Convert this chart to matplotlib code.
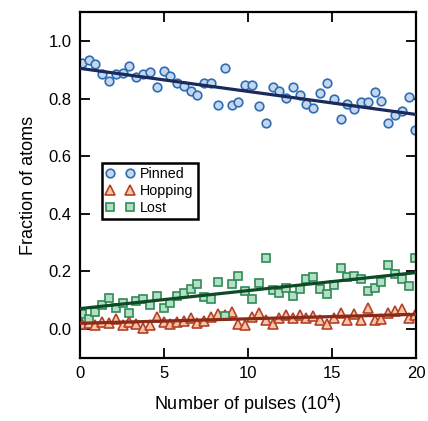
import numpy as np
import matplotlib
matplotlib.use("Agg")
import matplotlib.pyplot as plt

plt.rcParams['font.family'] = ['Liberation Sans', 'DejaVu Sans']

# pulse number (10^4), one value per measurement
pulses = [0.1, 0.51, 0.91, 1.32, 1.72, 2.13, 2.53, 2.94, 3.34, 3.75,
          4.16, 4.56, 4.97, 5.37, 5.78, 6.18, 6.59, 6.99, 7.40, 7.81,
          8.21, 8.62, 9.02, 9.43, 9.83, 10.24, 10.64, 11.05, 11.46, 11.86,
          12.27, 12.67, 13.08, 13.48, 13.89, 14.29, 14.70, 15.11, 15.51, 15.92,
          16.32, 16.73, 17.13, 17.54, 17.94, 18.35, 18.76, 19.16, 19.57, 19.94]

pinned = [0.925, 0.934, 0.920, 0.884, 0.862, 0.887, 0.890, 0.914, 0.876, 0.887,
          0.891, 0.840, 0.895, 0.879, 0.853, 0.843, 0.826, 0.812, 0.855, 0.855,
          0.779, 0.908, 0.779, 0.788, 0.847, 0.849, 0.773, 0.715, 0.840, 0.827,
          0.802, 0.842, 0.812, 0.783, 0.766, 0.819, 0.854, 0.798, 0.729, 0.782,
          0.763, 0.788, 0.788, 0.822, 0.791, 0.717, 0.743, 0.757, 0.804, 0.690]

hopping = [0.016, 0.020, 0.014, 0.024, 0.020, 0.036, 0.013, 0.024, 0.016, 0.005,
           0.014, 0.042, 0.026, 0.019, 0.024, 0.028, 0.037, 0.020, 0.028, 0.043,
           0.053, 0.048, 0.060, 0.016, 0.013, 0.043, 0.057, 0.030, 0.016, 0.037,
           0.049, 0.039, 0.048, 0.037, 0.046, 0.030, 0.016, 0.039, 0.055, 0.031,
           0.051, 0.030, 0.074, 0.031, 0.036, 0.057, 0.063, 0.069, 0.039, 0.049]

lost = [0.051, 0.034, 0.059, 0.084, 0.109, 0.074, 0.092, 0.057, 0.098, 0.103,
        0.084, 0.116, 0.074, 0.092, 0.116, 0.124, 0.138, 0.156, 0.111, 0.106,
        0.165, 0.045, 0.156, 0.185, 0.132, 0.106, 0.161, 0.246, 0.135, 0.126,
        0.144, 0.113, 0.138, 0.173, 0.179, 0.140, 0.123, 0.153, 0.211, 0.179,
        0.185, 0.175, 0.132, 0.142, 0.165, 0.223, 0.191, 0.173, 0.150, 0.246]

# linear fits: (intercept, slope per 10^4 pulses)
fit_pinned = (0.905, -0.0080)
fit_hopping = (0.020, 0.00155)
fit_lost = (0.071, 0.00625)

series = [
    ("Pinned", pinned, fit_pinned, "o", 6.2, "#c6d6ec", "#2c6db5", "#1a2a5a"),
    ("Hopping", hopping, fit_hopping, "^", 6.6, "#f8c6a2", "#b5402a", "#8a2a18"),
    ("Lost", lost, fit_lost, "s", 6.0, "#b3dfc6", "#2f8a55", "#0d4a25"),
]

fig = plt.figure(figsize=(4.28, 4.21), dpi=100)
ax = fig.add_axes([0.187, 0.150, 0.785, 0.821])

xfit = np.array([0, 20])
handles = []
for name, vals, fit, mk, ms, face, edge, lc in series:
    ax.plot(xfit, fit[0] + fit[1] * xfit, color=lc, lw=2.3, zorder=3)
    h, = ax.plot(pulses, vals, ls="none", marker=mk, ms=ms,
                 mfc=face, mec=edge, mew=1.2, label=name, zorder=2)
    handles.append(h)

ax.set_xlim(0, 20)
ax.set_ylim(-0.1, 1.1)
ax.set_xticks([0, 5, 10, 15, 20])
ax.set_yticks([0.0, 0.2, 0.4, 0.6, 0.8, 1.0])
ax.set_yticklabels(["0.0", "0.2", "0.4", "0.6", "0.8", "1.0"])
ax.tick_params(direction="in", length=7, width=1.3, labelsize=12,
               top=True, right=True, pad=6)
for sp in ax.spines.values():
    sp.set_linewidth(1.6)

ax.set_xlabel("Number of pulses (10$^4$)", fontsize=13, labelpad=8)
ax.set_ylabel("Fraction of atoms", fontsize=13, labelpad=8)

leg = ax.legend(handles=handles, loc="upper left", bbox_to_anchor=(0.065, 0.565),
                numpoints=2, fontsize=10.3, fancybox=False, framealpha=1,
                handlelength=2.0, handletextpad=0.35, labelspacing=0.22,
                borderpad=0.3, borderaxespad=0)
leg.get_frame().set_edgecolor("black")
leg.get_frame().set_linewidth(1.8)

fig.savefig("out.png", dpi=100)
